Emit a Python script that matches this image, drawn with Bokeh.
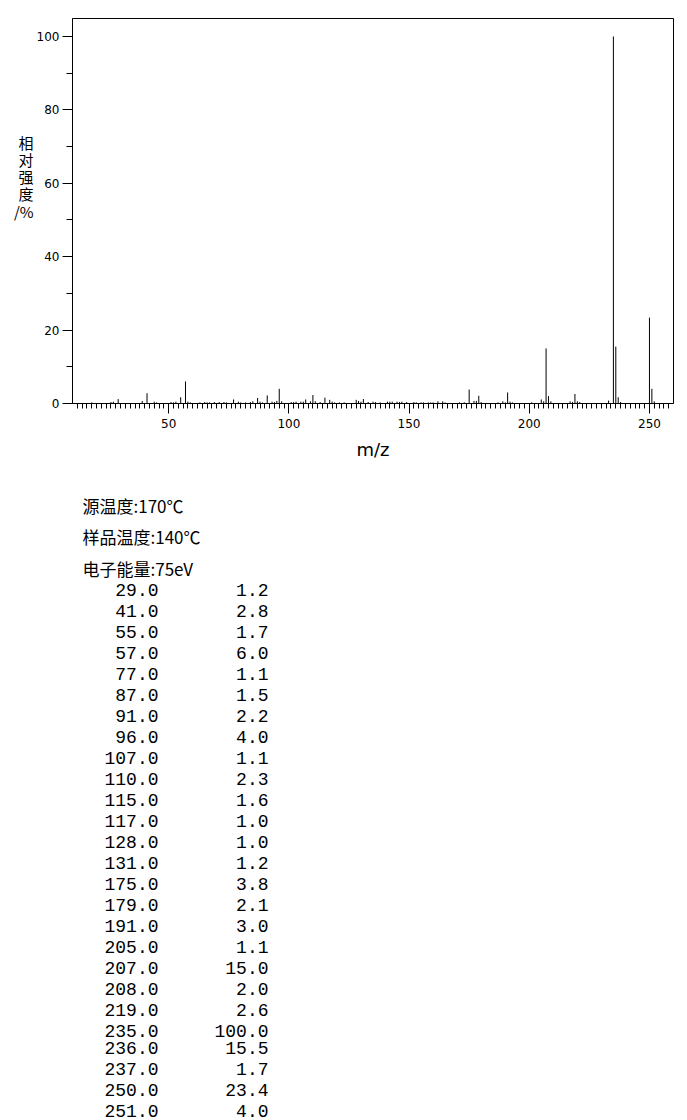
from bokeh.plotting import figure
from bokeh.models import Range1d, FixedTicker, ColumnDataSource
from bokeh.layouts import column
from bokeh.core.properties import value
from bokeh.embed import file_html
from bokeh.resources import INLINE

# ---- data ----
# listed peaks (m/z, relative intensity %)
mz = [29, 41, 55, 57, 77, 87, 91, 96, 107, 110, 115, 117, 128, 131,
      175, 179, 191, 205, 207, 208, 219, 235, 236, 237, 250, 251]
intensity = [1.2, 2.8, 1.7, 6.0, 1.1, 1.5, 2.2, 4.0, 1.1, 2.3, 1.6, 1.0, 1.0, 1.2,
             3.8, 2.1, 3.0, 1.1, 15.0, 2.0, 2.6, 100.0, 15.5, 1.7, 23.4, 4.0]

# small (<1 %) peaks
minor_mz = [18, 26, 27, 39, 44, 45, 51, 52, 53, 58,
            59, 63, 65, 66, 67, 69, 71, 73, 74, 79,
            80, 82, 84, 85, 88, 89, 93, 94, 95, 97,
            101, 102, 103, 105, 106, 109, 111, 113, 118, 119,
            121, 123, 129, 130, 133, 135, 136, 138, 141, 142,
            143, 145, 146, 147, 149, 152, 153, 155, 156, 158,
            159, 160, 162, 164, 165, 171, 173, 177, 178, 180,
            187, 189, 190, 192, 193, 201, 206, 209, 217, 218,
            220, 221, 233, 238, 252]
minor_int = [0.3, 0.4, 0.5, 0.7, 0.5, 0.3, 0.4, 0.3, 0.5, 0.5,
             0.3, 0.3, 0.4, 0.3, 0.3, 0.4, 0.4, 0.4, 0.3, 0.5,
             0.3, 0.3, 0.4, 0.6, 0.5, 0.3, 0.5, 0.4, 0.7, 0.6,
             0.4, 0.4, 0.5, 0.5, 0.5, 0.6, 0.6, 0.4, 0.5, 0.3,
             0.3, 0.3, 0.7, 0.5, 0.4, 0.5, 0.4, 0.3, 0.5, 0.5,
             0.5, 0.5, 0.4, 0.5, 0.4, 0.4, 0.3, 0.3, 0.3, 0.3,
             0.3, 0.3, 0.6, 0.6, 0.3, 0.3, 0.3, 0.7, 0.7, 0.4,
             0.3, 0.6, 0.3, 0.5, 0.3, 0.3, 0.6, 0.6, 0.6, 0.4,
             0.6, 0.4, 0.8, 0.4, 0.6]

x_major_ticks = [50, 100, 150, 200, 250]
x_minor_ticks = list(range(12, 260, 2))
y_major_ticks = [0, 20, 40, 60, 80, 100]
y_minor_ticks = [10, 30, 50, 70, 90]

header_lines = ["源温度:170℃", "样品温度:140℃", "电子能量:75eV"]
y_label_chars = ["相", "对", "强", "度", "/%"]

# ---- spectrum figure ----
W = 681
H1 = 470
X0, X1 = 10, 260
Y0, Y1 = 0, 104.9
p = figure(width=W, height=H1, x_range=Range1d(X0, X1), y_range=Range1d(Y0, Y1),
           output_backend="svg", toolbar_location=None,
           min_border_left=72, min_border_right=8, min_border_top=18, min_border_bottom=67)
p.xgrid.visible = False
p.ygrid.visible = False
p.outline_line_color = "black"
p.outline_line_alpha = 1.0
p.outline_line_width = 1
p.background_fill_color = "white"
p.border_fill_color = "white"

all_mz = minor_mz + mz
all_int = minor_int + intensity
src = ColumnDataSource(dict(mz=all_mz, inten=all_int, base=[0] * len(all_mz)))
p.segment(x0="mz", y0="base", x1="mz", y1="inten", source=src,
          line_color="black", line_width=1)

xa = p.xaxis[0]
xa.ticker = FixedTicker(ticks=x_major_ticks, minor_ticks=x_minor_ticks)
xa.major_tick_out = 10
xa.major_tick_in = 0
xa.minor_tick_out = 5
xa.minor_tick_in = 0
xa.axis_line_color = "black"
xa.major_tick_line_color = "black"
xa.minor_tick_line_color = "black"
xa.major_label_text_font = "DejaVu Sans"
xa.major_label_text_font_size = "12px"
xa.major_label_text_color = "black"
xa.major_label_standoff = 5
xa.axis_label = "m/z"
xa.axis_label_text_font = "DejaVu Sans"
xa.axis_label_text_font_size = "18px"
xa.axis_label_text_font_style = "normal"
xa.axis_label_text_color = "black"
xa.axis_label_standoff = 8

ya = p.yaxis[0]
ya.ticker = FixedTicker(ticks=y_major_ticks, minor_ticks=y_minor_ticks)
ya.major_tick_out = 10
ya.major_tick_in = 0
ya.minor_tick_out = 6
ya.minor_tick_in = 0
ya.axis_line_color = "black"
ya.major_tick_line_color = "black"
ya.minor_tick_line_color = "black"
ya.major_label_text_font = "DejaVu Sans"
ya.major_label_text_font_size = "12px"
ya.major_label_text_color = "black"
ya.major_label_standoff = 3
# stacked (vertical) y-axis title; trailing blank lines lift it above centre
ya.axis_label = "\n".join(y_label_chars + [" ", " ", " ", " "])
ya.axis_label_orientation = "horizontal"
ya.axis_label_text_font = "Noto Sans CJK SC"
ya.axis_label_text_font_size = "15px"
ya.axis_label_text_font_style = "normal"
ya.axis_label_text_color = "black"
ya.axis_label_text_line_height = 0.82
ya.axis_label_standoff = 0

# ---- text / table figure (frame aligned with spectrum frame: page px 72..673) ----
H2 = 650
q = figure(width=W, height=H2, x_range=Range1d(72, 673), y_range=Range1d(H2, 0),
           output_backend="svg", toolbar_location=None,
           x_axis_type=None, y_axis_type=None,
           min_border=0, min_border_left=72, min_border_right=8,
           min_border_top=0, min_border_bottom=0)
q.xgrid.visible = False
q.ygrid.visible = False
q.outline_line_color = None
q.background_fill_color = "white"
q.border_fill_color = "white"

hy = [35, 66, 98]
q.text(x=[82] * 3, y=hy, text=header_lines,
       text_font=value("Noto Sans CJK SC"), text_font_size="17px",
       text_align="left", text_baseline="middle", text_color="black")

row_y = []
for i in range(len(mz)):
    yy = 119 + 21 * i
    if i >= 22:
        yy -= 4
    row_y.append(yy)
mz_txt = ["%.1f" % v for v in mz]
int_txt = ["%.1f" % v for v in intensity]
q.text(x=[158] * len(mz), y=row_y, text=mz_txt,
       text_font=value("Liberation Mono"), text_font_size="18px",
       text_align="right", text_baseline="middle", text_color="black")
q.text(x=[268] * len(mz), y=row_y, text=int_txt,
       text_font=value("Liberation Mono"), text_font_size="18px",
       text_align="right", text_baseline="middle", text_color="black")

layout = column(p, q, spacing=0)
open("out.html", "w").write(file_html(layout, INLINE))
